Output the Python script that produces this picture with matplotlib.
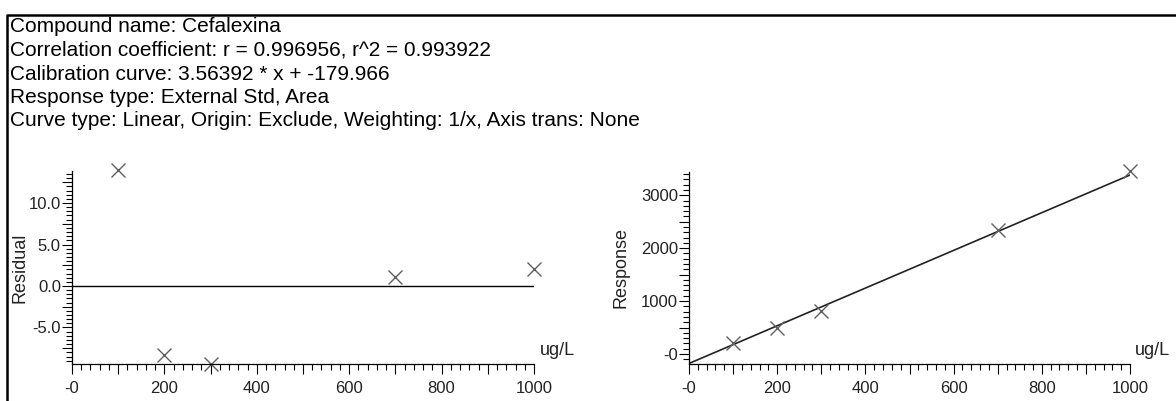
import matplotlib
matplotlib.use('Agg')
import matplotlib.pyplot as plt
from matplotlib.ticker import MultipleLocator, FuncFormatter
from matplotlib.lines import Line2D

plt.rcParams['font.family'] = ['Liberation Sans', 'DejaVu Sans']

# ------- calibration data
conc = [100, 200, 300, 700, 1000]          # ug/L
response = [200, 488, 805, 2340, 3455]     # peak area
residual = [14.0, -8.3, -9.4, 1.1, 2.1]    # %

slope = 3.56392
intercept = -179.966

header = ["Compound name: Cefalexina",
          "Correlation coefficient: r = 0.996956, r^2 = 0.993922",
          "Calibration curve: 3.56392 * x + -179.966",
          "Response type: External Std, Area",
          "Curve type: Linear, Origin: Exclude, Weighting: 1/x, Axis trans: None"]

W, H = 1176, 401
fig = plt.figure(figsize=(W / 100, H / 100), dpi=100)

# ------- report frame and header
fig.add_artist(Line2D([7 / W, 7 / W, 1], [0, 1 - 14.5 / H, 1 - 14.5 / H],
                      color='black', lw=1.8, transform=fig.transFigure))
for i, line in enumerate(header):
    fig.text(10 / W, 1 - (27 + 23.5 * i) / H, line, fontsize=15,
             va='center', ha='left', color='black')


def style_axis(ax, ylab, ymajor, yminor, ylabstep, yfmt, labx):
    for s in ['top', 'right']:
        ax.spines[s].set_visible(False)
    for s in ['left', 'bottom']:
        ax.spines[s].set_linewidth(0.9)
    ax.set_xlim(0, 1000)
    ax.xaxis.set_major_locator(MultipleLocator(100))
    ax.xaxis.set_minor_locator(MultipleLocator(20))
    ax.xaxis.set_major_formatter(FuncFormatter(
        lambda v, p: ('-0' if abs(v) < 1e-9 else '%d' % v) if round(v) % 200 == 0 else ''))
    ax.yaxis.set_major_locator(MultipleLocator(ymajor))
    ax.yaxis.set_minor_locator(MultipleLocator(yminor))
    ax.yaxis.set_major_formatter(FuncFormatter(
        lambda v, p: yfmt(v) if abs(v / ylabstep - round(v / ylabstep)) < 1e-6 else ''))
    ax.tick_params(which='major', direction='out', length=7, width=0.8,
                   labelsize=12, pad=1, colors='black', labelcolor='#222222')
    ax.tick_params(axis='x', which='major', pad=5)
    ax.tick_params(which='minor', direction='out', length=4, width=0.8)
    ax.set_ylabel(ylab, fontsize=13, color='#222222')
    ax.yaxis.set_label_coords(labx, 0.5)
    ax.text(1.012, 0.07, 'ug/L', transform=ax.transAxes, fontsize=13,
            ha='left', va='center', color='#222222')


# ------- residual plot
ax1 = fig.add_axes([72 / W, 1 - 364 / H, 462 / W, 192.5 / H])
ax1.plot([0, 1000], [0, 0], color='black', lw=1.0)
ax1.plot(conc, residual, 'x', color='#606060', markersize=10, mew=1.0, clip_on=False)
ax1.set_ylim(-9.4, 13.8)
style_axis(ax1, 'Residual', 2.5, 0.5, 5,
           lambda v: '0.0' if abs(v) < 1e-9 else '%.1f' % v, -0.095)

# ------- calibration curve
ax2 = fig.add_axes([689 / W, 1 - 364 / H, 441 / W, 192.5 / H])
xs = [0, 1000]
ax2.plot(xs, [slope * x + intercept for x in xs], color='#222222', lw=1.2)
ax2.plot(conc, response, 'x', color='#606060', markersize=10, mew=1.0, clip_on=False)
ax2.set_ylim(-190, 3450)
style_axis(ax2, 'Response', 500, 100, 1000,
           lambda v: '-0' if abs(v) < 1e-9 else '%d' % v, -0.135)

fig.savefig('out.png', dpi=100)
